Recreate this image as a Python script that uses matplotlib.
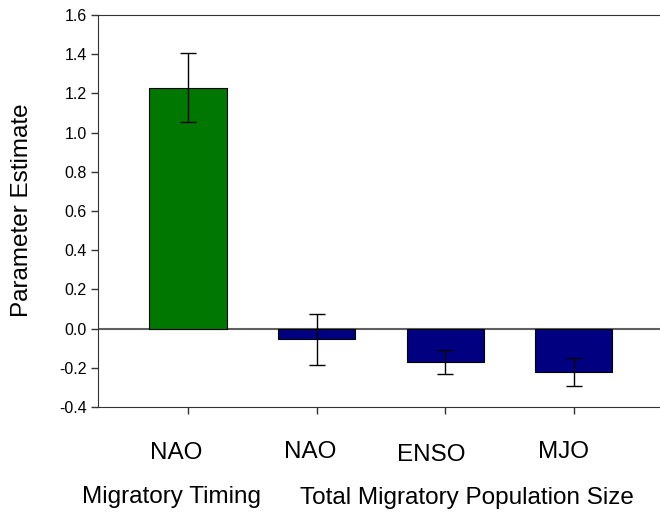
##
#  Bar chart of parameter estimates for climate indices.
#

import matplotlib
matplotlib.use("Agg")
import matplotlib.pyplot as plt

plt.rcParams['font.family'] = ['Liberation Sans', 'DejaVu Sans']

tickLabels = ["NAO", "NAO", "ENSO", "MJO"]
estimates = [1.23, -0.055, -0.17, -0.222]
errLow = [0.175, 0.13, 0.06, 0.07]
errHigh = [0.175, 0.13, 0.06, 0.07]
barColors = ["#007800", "#000080", "#000080", "#000080"]
yTicks = [-0.4, -0.2, 0.0, 0.2, 0.4, 0.6, 0.8, 1.0, 1.2, 1.4, 1.6]
groupLabels = ["Migratory Timing", "Total Migratory Population Size"]

W, H = 660, 516

def figText(fig, xPix, yPix, s, **kw):
   fig.text(xPix/W, 1 - yPix/H, s, ha="center", va="center", fontsize=17.5, **kw)

def main():
   fig = plt.figure(figsize=(W/100, H/100), dpi=100)
   ax = fig.add_axes([98/W, 109/H, 562/W, 392/H])
   positions = list(range(len(estimates)))
   ax.bar(positions, estimates, width=0.6, color=barColors,
          edgecolor="black", linewidth=0.8, zorder=2)
   ax.errorbar(positions, estimates, yerr=[errLow, errHigh], fmt="none",
               ecolor="black", elinewidth=1, capsize=6, capthick=1, zorder=3)
   ax.axhline(0, color="#606060", linewidth=1.5, zorder=1)
   ax.set_xlim(-0.7, 3.67)
   ax.set_ylim(-0.4, 1.6)
   ax.set_yticks(yTicks)
   ax.set_yticklabels(["%.1f" % t for t in yTicks], fontsize=11.5)
   ax.set_xticks(positions)
   ax.set_xticklabels([])
   ax.spines["right"].set_visible(False)
   for side in ("left", "top", "bottom"):
      ax.spines[side].set_color("#333333")
   ax.tick_params(direction="out", length=5, width=1, color="#333333", pad=3)

   figText(fig, 22, 210, "Parameter Estimate", rotation=90)

   # category labels sit at slightly different spots in the original
   labelX = [176, 310, 431, 564]
   labelY = [453, 452, 455, 452]
   for lab, xPix, yPix in zip(tickLabels, labelX, labelY):
      figText(fig, xPix, yPix, lab)
   figText(fig, 172, 497, groupLabels[0])
   figText(fig, 467, 498, groupLabels[1])

   fig.savefig("out.png", dpi=100)

main()
